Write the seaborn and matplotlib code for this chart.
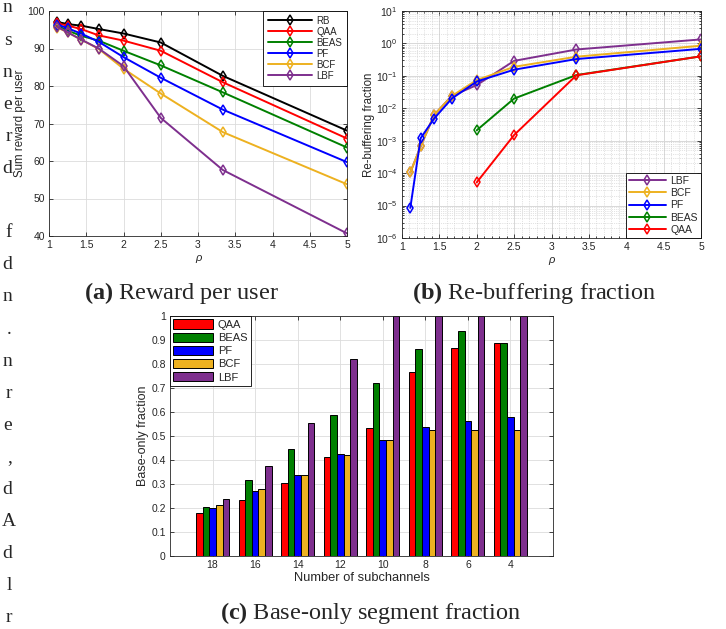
import numpy as np
import pandas as pd
import seaborn as sns
import matplotlib.pyplot as plt
from matplotlib.ticker import MultipleLocator, LogLocator, NullFormatter

# x axis of (a) and (b): rho = 10 / N
rho = [10/9, 10/8, 10/7, 10/6, 10/5, 10/4, 10/3, 10/2]

# (a) Sum reward per user
reward_rb = [97.1, 96.5, 96.1, 95.2, 94.0, 91.6, 82.7, 68.1]
reward_qaa = [96.7, 96.1, 95.2, 93.5, 92.1, 89.4, 81.0, 66.0]
reward_beas = [96.1, 94.8, 93.4, 92.1, 89.4, 85.5, 78.3, 63.6]
reward_pf = [96.4, 95.4, 94.0, 91.8, 87.7, 82.2, 73.7, 59.7]
reward_bcf = [95.6, 94.3, 92.4, 89.9, 84.6, 78.0, 67.7, 53.8]
reward_lbf = [95.8, 94.3, 92.4, 90.0, 85.3, 71.5, 57.6, 40.7]

# (b) Re-buffering fraction
rebuf_lbf = [1.05e-4, 6.7e-4, 6.2e-3, 0.024, 0.052, 0.29, 0.65, 1.33]
rebuf_bcf = [1.05e-4, 6.7e-4, 6.2e-3, 0.024, 0.074, 0.19, 0.39, 0.85]
rebuf_pf = [8.5e-6, 1.2e-3, 4.8e-3, 0.020, 0.067, 0.155, 0.33, 0.68]
rebuf_beas = [np.nan, np.nan, np.nan, np.nan, 2.1e-3, 0.020, 0.106, 0.40]
rebuf_qaa = [np.nan, np.nan, np.nan, np.nan, 5.2e-5, 1.5e-3, 0.104, 0.40]

# (c) Base-only segment fraction
subchannels = ["18", "16", "14", "12", "10", "8", "6", "4"]
base_qaa = [0.179, 0.235, 0.303, 0.414, 0.532, 0.768, 0.867, 0.888]
base_beas = [0.206, 0.318, 0.447, 0.589, 0.722, 0.864, 0.939, 0.886]
base_pf = [0.200, 0.269, 0.339, 0.424, 0.482, 0.536, 0.563, 0.579]
base_bcf = [0.211, 0.278, 0.339, 0.422, 0.485, 0.526, 0.526, 0.526]
base_lbf = [0.239, 0.374, 0.553, 0.819, 1.0, 1.0, 1.0, 1.0]

# stray letters of the page text cut at the left edge
margin_letters = ["n", "s", "n", "e", "r", "d", "", "f", "d", "n", ".",
                  "n", "r", "e", ",", "d", "A", "d", "l", "r"]

colors = {
    "RB": "black",
    "QAA": "#ff0000",
    "BEAS": "#008000",
    "PF": "#0000ff",
    "BCF": "#edb120",
    "LBF": "#7e2f8e",
}

sns.set_style("ticks")
plt.rcParams["font.family"] = ["Liberation Sans", "DejaVu Sans"]
plt.rcParams["mathtext.fontset"] = "custom"
plt.rcParams["mathtext.rm"] = "Liberation Sans"
plt.rcParams["mathtext.it"] = "Liberation Sans:italic"
plt.rcParams["mathtext.bf"] = "Liberation Serif:bold"

W, H = 726, 629
fig = plt.figure(figsize=(W / 100, H / 100), dpi=100)


def px_axes(left, top, right, bottom):
    return fig.add_axes([left / W, (H - bottom) / H, (right - left) / W, (bottom - top) / H])


def matlab_style(ax):
    for s in ax.spines.values():
        s.set_color("#262626")
        s.set_linewidth(0.6)
    ax.tick_params(which="both", direction="in", top=True, right=True,
                   colors="#262626", labelsize=7.5, width=0.6, pad=3)
    ax.tick_params(which="major", length=3)
    ax.tick_params(which="minor", length=1.5)
    ax.set_axisbelow(True)


def legend_box(ax, size=7.5, spacing=0.15, pad=0.3, **kw):
    leg = ax.legend(fontsize=size, fancybox=False, framealpha=1, borderaxespad=0,
                    borderpad=pad, labelspacing=spacing, handletextpad=0.4, **kw)
    leg.get_frame().set_edgecolor("black")
    leg.get_frame().set_linewidth(0.6)
    return leg


line_kw = dict(marker="d", markersize=5.5, markerfacecolor="none",
               markeredgewidth=1.1, linewidth=1.4)

# ---- (a)
ax1 = px_axes(49, 11, 347, 236)
series_a = [("RB", reward_rb), ("QAA", reward_qaa), ("BEAS", reward_beas),
            ("PF", reward_pf), ("BCF", reward_bcf), ("LBF", reward_lbf)]
for name, vals in series_a:
    sns.lineplot(x=rho, y=vals, ax=ax1, color=colors[name], label=name,
                 markeredgecolor=colors[name], **line_kw)
ax1.set_xlim(1, 5)
ax1.set_ylim(40, 100)
ax1.xaxis.set_major_locator(MultipleLocator(0.5))
ax1.xaxis.set_major_formatter(plt.FuncFormatter(lambda v, p: f"{v:g}"))
ax1.yaxis.set_major_locator(MultipleLocator(10))
ax1.grid(True, color="#dcdcdc", linewidth=0.6)
matlab_style(ax1)
ax1.set_xlabel("ρ", fontsize=8, style="italic", color="#262626", labelpad=2)
ax1.set_ylabel("Sum reward per user", fontsize=8.3, color="#262626")
ax1.yaxis.set_label_coords((26 - 49) / 298, 0.5)
legend_box(ax1, size=7, spacing=0.1, pad=0.5, loc="upper right", handlelength=4.6)

# ---- (b)
ax2 = px_axes(402, 11, 701, 238)
series_b = [("LBF", rebuf_lbf), ("BCF", rebuf_bcf), ("PF", rebuf_pf),
            ("BEAS", rebuf_beas), ("QAA", rebuf_qaa)]
for name, vals in series_b:
    d = pd.DataFrame({"rho": rho, "v": vals}).dropna()
    sns.lineplot(data=d, x="rho", y="v", ax=ax2, color=colors[name], label=name,
                 markeredgecolor=colors[name], **line_kw)
ax2.set_yscale("log")
ax2.set_xlim(1, 5)
ax2.set_ylim(1e-6, 1e1)
ax2.xaxis.set_major_locator(MultipleLocator(0.5))
ax2.xaxis.set_minor_locator(MultipleLocator(0.1))
ax2.xaxis.set_major_formatter(plt.FuncFormatter(lambda v, p: f"{v:g}"))
ax2.yaxis.set_major_locator(LogLocator(base=10, numticks=10))
ax2.yaxis.set_minor_locator(LogLocator(base=10, subs=np.arange(2, 10), numticks=100))
ax2.yaxis.set_minor_formatter(NullFormatter())
ax2.grid(True, which="major", color="#d8d8d8", linewidth=0.7)
ax2.grid(True, which="minor", color="#c8c8c8", linewidth=0.5, linestyle=":")
matlab_style(ax2)
ax2.set_xlabel("ρ", fontsize=8, style="italic", color="#262626", labelpad=2)
ax2.set_ylabel("Re-buffering fraction", fontsize=8.3, color="#262626", labelpad=1)
legend_box(ax2, size=7.5, spacing=0.22, loc="lower right", handlelength=3.6)

# ---- (c)
ax3 = px_axes(170, 316, 553, 556)
algs = ["QAA", "BEAS", "PF", "BCF", "LBF"]
bar_vals = [base_qaa, base_beas, base_pf, base_bcf, base_lbf]
df = pd.DataFrame({
    "sub": subchannels * len(algs),
    "alg": [a for a in algs for _ in subchannels],
    "frac": [v for vals in bar_vals for v in vals],
})
sns.barplot(data=df, x="sub", y="frac", hue="alg", order=subchannels,
            hue_order=algs, palette=colors, ax=ax3, width=0.78,
            edgecolor="black", linewidth=0.7, saturation=1)
ax3.set_xlim(-1, 8)
ax3.set_ylim(0, 1)
ax3.yaxis.set_major_locator(MultipleLocator(0.1))
ax3.yaxis.set_major_formatter(plt.FuncFormatter(lambda v, p: f"{v:g}"))
ax3.grid(True, color="#dcdcdc", linewidth=0.6)
matlab_style(ax3)
ax3.set_xlabel("Number of subchannels", fontsize=9.3, color="#262626", labelpad=1)
ax3.set_ylabel("Base-only fraction", fontsize=9, color="#262626", labelpad=2)
legend_box(ax3, size=8, spacing=0.25, loc="upper left", title=None,
           handlelength=3.6, handleheight=0.9)

# ---- captions
cap_kw = dict(ha="center", va="center", fontsize=17.5, family="Liberation Serif")
fig.text(181 / W, 1 - 293 / H, r"$\bf{(a)}$ Reward per user", **cap_kw)
fig.text(534 / W, 1 - 293 / H, r"$\bf{(b)}$ Re-buffering fraction", **cap_kw)
fig.text(371 / W, 1 - 613 / H, r"$\bf{(c)}$ Base-only segment fraction", **cap_kw)

for k, ch in enumerate(margin_letters):
    if ch:
        right = 16 if ch == "A" else 12
        fig.text(right / W, 1 - (8 + 32.1 * k) / H, ch, ha="right", va="center",
                 fontsize=14, family="Liberation Serif")

fig.savefig("out.png", dpi=100)
